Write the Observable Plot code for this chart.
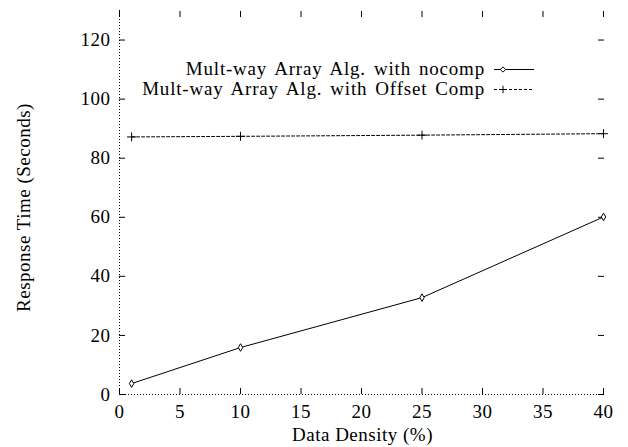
<!DOCTYPE html>
<html><head><meta charset="utf-8">
<script src="https://cdn.jsdelivr.net/npm/d3@7"></script>
<script src="https://cdn.jsdelivr.net/npm/@observablehq/plot@0.6"></script>
<style>
body{margin:0;background:#fff;}
#wrap{position:relative;width:628px;height:447px;font-family:"Liberation Serif",serif;}
.leg{position:absolute;right:143px;font-size:19px;letter-spacing:0.8px;word-spacing:2.5px;color:#000;white-space:nowrap;line-height:20px;font-family:"Liberation Serif",serif;}
.legsvg{position:absolute;}
svg text{letter-spacing:0.5px;}
</style>
</head><body>
<div id="wrap"></div>
<script>
const densities = [1, 10, 25, 40];
const nocomp = [3.7, 15.9, 32.8, 60.1];
const offsetComp = [87.2, 87.4, 87.8, 88.3];
const seriesNames = ["Mult-way Array Alg. with nocomp", "Mult-way Array Alg. with Offset Comp"];
const xTicks = [0, 5, 10, 15, 20, 25, 30, 35, 40];
const yTicks = [0, 20, 40, 60, 80, 100, 120];

const d1 = densities.map((x, i) => ({x, y: nocomp[i]}));
const d2 = densities.map((x, i) => ({x, y: offsetComp[i]}));

const font = "'Liberation Serif', serif";
const plot = Plot.plot({
  width: 628, height: 447,
  marginLeft: 119, marginRight: 25, marginTop: 10, marginBottom: 53,
  style: {fontFamily: font, fontSize: "19px", color: "#000", background: "#fff"},
  x: {domain: [0, 40]},
  y: {domain: [0, 130]},
  marks: [
    Plot.ruleX([0], {stroke: "#000", strokeDasharray: "1,2", strokeWidth: 1}),
    Plot.ruleY([0], {stroke: "#000", strokeDasharray: "1,2", strokeWidth: 1}),
    Plot.axisX({anchor: "bottom", ticks: xTicks, tickSize: -6, tickPadding: 16, tickFormat: d => d, label: null, fontSize: 19}),
    Plot.axisX({anchor: "top", ticks: xTicks, tickSize: -6, tickFormat: () => "", label: null}),
    Plot.axisY({anchor: "left", ticks: yTicks, tickSize: -6, tickPadding: 15, tickFormat: d => d, label: null, fontSize: 19}),
    Plot.axisY({anchor: "right", ticks: yTicks, tickSize: -6, tickFormat: () => "", label: null}),
    Plot.text(["Data Density (%)"], {frameAnchor: "bottom", text: d => d, dy: 46, fontSize: 19, dx: 1}),
    Plot.text(["Response Time (Seconds)"], {frameAnchor: "left", text: d => d, rotate: -90, textAnchor: "middle", dx: -96, dy: 5, fontSize: 19}),
    Plot.line(d2, {x: "x", y: "y", stroke: "#000", strokeWidth: 1, strokeDasharray: "3,2"}),
    Plot.dot(d2, {x: "x", y: "y", symbol: "plus", r: 3, stroke: "#000", strokeWidth: 1}),
    Plot.line(d1, {x: "x", y: "y", stroke: "#000", strokeWidth: 1}),
    Plot.dot(d1, {x: "x", y: "y", symbol: "diamond", r: 2.3, stroke: "#000", fill: "#fff", strokeWidth: 1})
  ]
});
const wrap = document.getElementById("wrap");
wrap.appendChild(plot);

const styles = [{dash: null, sym: "diamond"}, {dash: "3,2", sym: "plus"}];
seriesNames.forEach((name, i) => {
  const top = 59 + i * 20;
  const t = document.createElement("div");
  t.className = "leg";
  t.style.top = top + "px";
  t.textContent = name;
  wrap.appendChild(t);
  const svg = d3.select(wrap).append("svg").attr("class", "legsvg")
    .attr("width", 44).attr("height", 20)
    .style("left", "492px").style("top", top + "px");
  svg.append("line").attr("x1", 2).attr("x2", 42).attr("y1", 10.5).attr("y2", 10.5)
    .attr("stroke", "#000").attr("stroke-dasharray", styles[i].dash);
  const s = d3.symbol(styles[i].sym === "diamond" ? d3.symbolDiamond2 : d3.symbolPlus, styles[i].sym === "diamond" ? 18 : 20)();
  svg.append("path").attr("d", s).attr("transform", "translate(11,10.5)")
    .attr("stroke", "#000").attr("fill", "#fff");
});
</script>
</body></html>
